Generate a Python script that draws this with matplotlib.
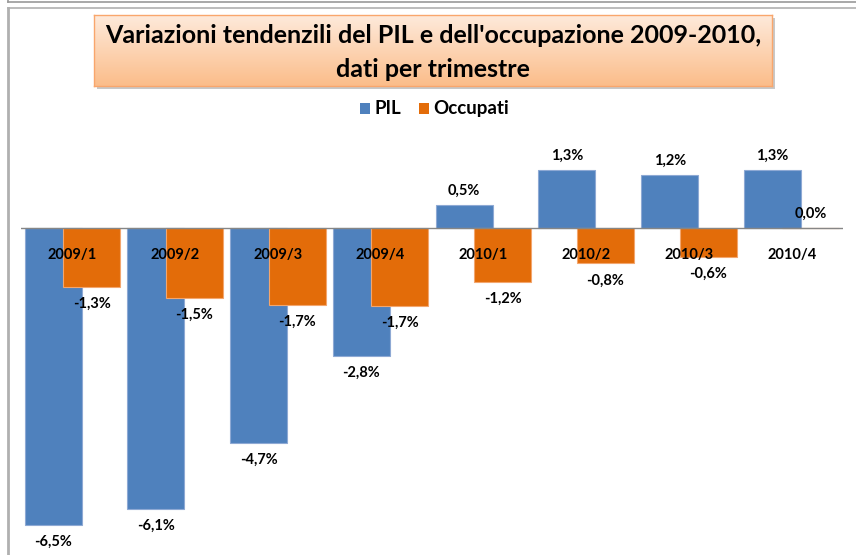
import matplotlib

matplotlib.use("Agg")
import matplotlib.pyplot as plt
import numpy as np
from matplotlib.patches import Rectangle
from matplotlib.lines import Line2D

CATEGORIES = ["2009/1", "2009/2", "2009/3", "2009/4", "2010/1", "2010/2", "2010/3", "2010/4"]
PIL = [-6.46, -6.10, -4.68, -2.78, 0.50, 1.26, 1.16, 1.27]
OCCUPATI = [-1.28, -1.52, -1.68, -1.69, -1.18, -0.77, -0.62, 0.0]
SERIES_NAMES = ["PIL", "Occupati"]
TITLE = "Variazioni tendenzili del PIL e dell'occupazione 2009-2010,\ndati per trimestre"

BLUE = "#4F81BD"
ORANGE = "#E36C09"
FONT = ["Lato", "DejaVu Sans"]

W, H = 856, 555
DPI = 100


def px_rect(x0, y0, x1, y1):
    # pixel box (top-left origin) -> figure fraction [left, bottom, width, height]
    return [x0 / W, 1 - y1 / H, (x1 - x0) / W, (y1 - y0) / H]


def pt(px):
    return px * 72 / DPI


fig = plt.figure(figsize=(W / DPI, H / DPI), dpi=DPI)
fig.patch.set_facecolor("white")

# outer frame lines
fig.add_artist(Line2D([8 / W, 1], [1 - 1.5 / H, 1 - 1.5 / H], color="#9a9a9a", lw=1.2))
fig.add_artist(Line2D([8 / W, 8 / W], [1, 1 - 1.5 / H], color="#9a9a9a", lw=1.2))
fig.add_artist(Line2D([8 / W, 1], [1 - 8 / H, 1 - 8 / H], color="#b0b0b0", lw=1.2))
fig.add_artist(Line2D([8 / W, 8 / W], [0, 1 - 8 / H], color="#b0b0b0", lw=2.0))

# title box with shadow and gradient
shadow = px_rect(97, 18, 775, 89)
fig.add_artist(Rectangle((shadow[0], shadow[1]), shadow[2], shadow[3], transform=fig.transFigure,
                         facecolor="#c8c8c8", edgecolor="none", zorder=0))
tax = fig.add_axes(px_rect(94, 15, 772, 86))
grad = np.linspace(0, 1, 100).reshape(-1, 1)
top = np.array([0xFE, 0xEA, 0xDB]) / 255
bot = np.array([0xFB, 0xBD, 0x8A]) / 255
img = top + (bot - top) * grad[:, :, None]
tax.imshow(img, aspect="auto", extent=(0, 1, 0, 1))
tax.set_xlim(0, 1)
tax.set_ylim(0, 1)
tax.set_xticks([])
tax.set_yticks([])
for s in tax.spines.values():
    s.set_color("#F9A66C")
    s.set_linewidth(1.0)
tax.text(0.5, 0.47, TITLE, ha="center", va="center", fontsize=18, fontweight="bold",
         family=FONT, linespacing=1.55, color="black")

# legend
leg_y = 1 - 108.5 / H
fig.add_artist(Rectangle((360 / W, 1 - 113.5 / H), 10 / W, 10 / H, transform=fig.transFigure,
                         facecolor=BLUE, edgecolor="none"))
fig.text(374 / W, leg_y, SERIES_NAMES[0], ha="left", va="center", fontsize=13.5, fontweight="bold", family=FONT)
fig.add_artist(Rectangle((419 / W, 1 - 113.5 / H), 10 / W, 10 / H, transform=fig.transFigure,
                         facecolor=ORANGE, edgecolor="none"))
fig.text(433 / W, leg_y, SERIES_NAMES[1], ha="left", va="center", fontsize=13.5, fontweight="bold", family=FONT)

# plot area
ax = fig.add_axes(px_rect(21, 140, 843, 555))
ax.set_xlim(-0.5, len(CATEGORIES) - 0.5)
ax.set_ylim(-(555 - 228) / 46.0, (228 - 140) / 46.0)
ax.axis("off")

x = np.arange(len(CATEGORIES))
width = 0.555
offset = 0.187
ax.bar(x - offset, PIL, width, color=BLUE, edgecolor="#8EA9D4", linewidth=0.8, zorder=2)
occ_edges = ["#F3A66E" if v != 0 else ORANGE for v in OCCUPATI]
ax.bar(x + offset, OCCUPATI, width, color=ORANGE, edgecolor=occ_edges, linewidth=0.8, zorder=3)
ax.axhline(0, color="#868686", lw=1.0, zorder=4)

for i, cat in enumerate(CATEGORIES):
    ax.annotate(cat, (x[i], 0), xytext=(0, -pt(27)), textcoords="offset points",
                ha="center", va="center", fontsize=10.5, fontweight="bold", family=FONT, zorder=5)


def label(xpos, v):
    txt = f"{v:.1f}".replace(".", ",") + "%"
    dy = -pt(17) if v < 0 else pt(14)
    ax.annotate(txt, (xpos, v), xytext=(0, dy), textcoords="offset points",
                ha="center", va="center", fontsize=10.5, fontweight="bold", family=FONT, zorder=5)


for i in range(len(CATEGORIES)):
    label(x[i] - offset, PIL[i])
    label(x[i] + offset, OCCUPATI[i])

fig.savefig("out.png", dpi=DPI)
